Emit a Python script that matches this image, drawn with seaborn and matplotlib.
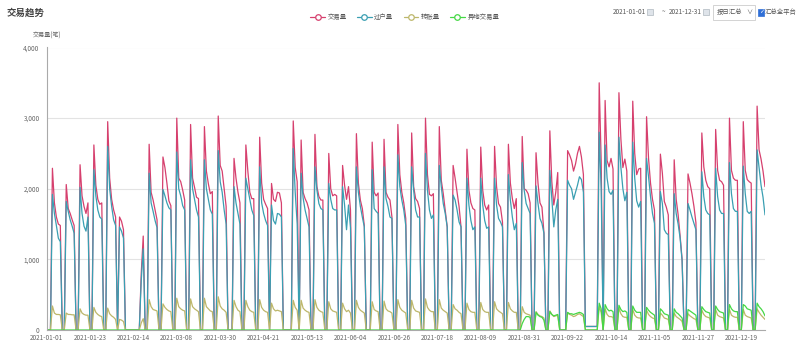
import pandas as pd
import matplotlib.pyplot as plt
import seaborn as sns
from matplotlib.lines import Line2D
from matplotlib.patches import Rectangle

sns.set_style('white')
plt.rcParams['font.family'] = ['Noto Sans CJK SC', 'DejaVu Sans']

# 每日数据, 2021-01-01 (周五) 起, 每行一周 (周一..周日)
dates = pd.date_range('2021-01-01', '2021-12-31', freq='D')

jiaoyi = [
    0, 0, 0,
    2290, 1800, 1600, 1500, 1480, 0, 0,  # 01-04
    2060, 1720, 1650, 1560, 1480, 0, 0,
    2340, 1900, 1750, 1650, 1800, 0, 0,
    2620, 2050, 1850, 1780, 1800, 0, 0,
    2950, 2150, 1850, 1700, 1600, 0, 1600,  # 02-01
    1540, 1420, 0, 0, 0, 0, 0,
    0, 0, 0, 800, 1330, 0, 0,
    2630, 1950, 1840, 1700, 1560, 0, 0,
    2450, 2300, 2080, 1830, 1760, 0, 0,  # 03-01
    3000, 2150, 2100, 1980, 1840, 0, 0,
    2910, 2150, 2020, 1880, 1860, 0, 0,
    2880, 2250, 2070, 1930, 1960, 0, 0,
    3030, 2330, 2250, 2000, 1750, 0, 0,
    0, 2430, 2150, 1950, 1800, 0, 0,  # 04-05
    2620, 2250, 1950, 1860, 1860, 0, 0,
    2730, 2080, 1850, 1780, 1720, 0, 2075,
    1850, 1820, 1950, 1940, 1800, 0, 0,
    0, 0, 0, 2960, 2300, 2100, 0,  # 05-03
    2690, 1950, 1860, 1800, 1700, 0, 0,
    2770, 2030, 1890, 1840, 1840, 0, 0,
    2500, 2000, 1900, 1920, 1900, 0, 0,
    2330, 2050, 1850, 2030, 1700, 0, 0,  # 05-31
    2780, 2080, 1840, 1720, 1480, 0, 0,
    0, 2660, 1950, 1900, 1940, 0, 0,
    2700, 1950, 1880, 1840, 1600, 0, 0,
    2910, 2200, 1950, 1800, 1580, 0, 0,  # 06-28
    2790, 2030, 1860, 1820, 1720, 0, 0,
    3000, 2200, 1920, 1900, 1930, 0, 0,
    2880, 2120, 1930, 1700, 1460, 0, 0,
    2330, 2150, 1950, 1750, 1460, 0, 0,
    2560, 1980, 1800, 1720, 1700, 0, 0,  # 08-02
    2590, 1980, 1770, 1700, 1770, 0, 0,
    2600, 2030, 1790, 1740, 1530, 0, 0,
    2630, 2080, 1860, 1720, 1860, 0, 0,
    2740, 2000, 1980, 1930, 1800, 0, 0,  # 08-30
    2510, 2080, 1800, 1740, 1380, 0, 0,
    2820, 2100, 1770, 1950, 2230, 0, 0,
    0, 0, 2540, 2480, 2400, 2250, 2350,
    2500, 2600, 2450, 2200, 50, 50, 50,  # 09-27
    50, 50, 50, 50, 3500, 2400, 0,
    3250, 2400, 2310, 2430, 2280, 0, 0,
    3360, 2700, 2300, 2420, 2250, 0, 0,
    3240, 2500, 2200, 2280, 2290, 0, 0,
    3020, 2430, 2080, 1850, 1700, 0, 0,  # 11-01
    2490, 2220, 1820, 1740, 1630, 0, 0,
    2410, 1850, 1630, 1330, 1000, 0, 0,
    2210, 2080, 1930, 1750, 1520, 0, 0,
    2790, 2310, 2120, 2030, 2000, 0, 0,  # 11-29
    2840, 2260, 2120, 2100, 2050, 0, 0,
    3000, 2260, 2150, 2120, 2120, 0, 0,
    2950, 2260, 2130, 2100, 2080, 0, 0,
    3170, 2550, 2420, 2250, 2030,  # 12-27
]

guohu = [
    0, 0, 0,
    1920, 1650, 1480, 1300, 1250, 0, 0,  # 01-04
    1820, 1680, 1560, 1470, 1370, 0, 0,
    2020, 1650, 1470, 1400, 1600, 0, 0,
    2270, 1900, 1700, 1600, 1570, 0, 0,
    2600, 2000, 1750, 1560, 1480, 0, 1460,  # 02-01
    1400, 1300, 0, 0, 0, 0, 0,
    0, 0, 0, 700, 1150, 0, 0,
    2220, 1800, 1680, 1550, 1450, 0, 0,
    1990, 1900, 1800, 1730, 1700, 0, 0,  # 03-01
    2520, 2000, 1900, 1760, 1700, 0, 0,
    2410, 2000, 1850, 1700, 1600, 0, 0,
    2410, 2000, 1850, 1700, 1640, 0, 0,
    2540, 2100, 1950, 1700, 1500, 0, 0,
    0, 2030, 1800, 1650, 1500, 0, 0,  # 04-05
    2150, 2000, 1850, 1700, 1620, 0, 0,
    2310, 1800, 1650, 1550, 1480, 0, 1770,
    1550, 1500, 1650, 1640, 1600, 0, 0,
    0, 0, 0, 2570, 1950, 1500, 0,  # 05-03
    2220, 1870, 1700, 1580, 1460, 0, 0,
    2310, 1980, 1790, 1720, 1700, 0, 0,
    2075, 1850, 1720, 1700, 1700, 0, 0,
    2030, 1770, 1420, 1770, 1450, 0, 0,  # 05-31
    2310, 1950, 1750, 1600, 1460, 0, 0,
    0, 2270, 1720, 1680, 1650, 0, 0,
    2310, 1860, 1750, 1600, 1580, 0, 0,
    2480, 2030, 1840, 1700, 1480, 0, 0,  # 06-28
    2310, 1980, 1700, 1600, 1600, 0, 0,
    2500, 1980, 1700, 1580, 1630, 0, 0,
    2330, 2030, 1790, 1650, 1460, 0, 0,
    1910, 1840, 1700, 1530, 1460, 0, 0,
    2150, 1770, 1550, 1420, 1460, 0, 0,  # 08-02
    2150, 1770, 1550, 1440, 1460, 0, 0,
    2150, 1770, 1580, 1530, 1460, 0, 0,
    2200, 1840, 1600, 1420, 1510, 0, 0,
    2370, 1980, 1790, 1720, 1650, 0, 0,  # 08-30
    2040, 1790, 1580, 1510, 1370, 0, 0,
    2260, 1850, 1460, 1700, 1850, 0, 0,
    0, 0, 2120, 2050, 2000, 1850, 1950,
    2050, 2170, 2130, 1950, 50, 50, 50,  # 09-27
    50, 50, 50, 50, 2800, 2000, 0,
    2620, 2150, 1960, 1920, 1980, 0, 0,
    2730, 2300, 2000, 1830, 1950, 0, 0,
    2660, 2150, 1830, 1740, 1820, 0, 0,
    2430, 2170, 1890, 1650, 1510, 0, 0,  # 11-01
    1960, 1790, 1420, 1370, 1350, 0, 0,
    1930, 1650, 1500, 1300, 980, 0, 0,
    1790, 1700, 1600, 1510, 1420, 0, 0,
    2240, 1890, 1700, 1650, 1630, 0, 0,  # 11-29
    2290, 1890, 1700, 1650, 1650, 0, 0,
    2370, 1930, 1720, 1680, 1680, 0, 0,
    2320, 1930, 1680, 1650, 1680, 0, 0,
    2550, 2300, 2050, 1880, 1630,  # 12-27
]

zhuanzhang = [
    0, 0, 0,
    340, 240, 220, 220, 215, 0, 0,  # 01-04
    240, 220, 220, 215, 215, 0, 0,
    300, 240, 220, 210, 210, 0, 0,
    320, 250, 220, 200, 190, 0, 0,
    310, 230, 200, 180, 150, 0, 150,  # 02-01
    140, 120, 0, 0, 0, 0, 0,
    0, 0, 0, 100, 160, 0, 0,
    430, 330, 290, 280, 270, 0, 0,
    370, 320, 290, 270, 260, 0, 0,  # 03-01
    450, 330, 300, 280, 270, 0, 0,
    440, 330, 300, 280, 260, 0, 0,
    450, 330, 300, 270, 260, 0, 0,
    470, 340, 300, 280, 250, 0, 0,
    0, 420, 330, 280, 260, 0, 0,  # 04-05
    420, 330, 280, 260, 250, 0, 0,
    430, 320, 280, 260, 250, 0, 380,
    300, 270, 280, 270, 260, 0, 0,
    0, 0, 0, 420, 320, 280, 0,  # 05-03
    420, 310, 280, 260, 250, 0, 0,
    430, 320, 280, 260, 250, 0, 0,
    400, 300, 270, 260, 250, 0, 0,
    380, 300, 260, 280, 240, 0, 0,  # 05-31
    420, 320, 280, 260, 240, 0, 0,
    0, 400, 290, 270, 260, 0, 0,
    410, 300, 270, 260, 240, 0, 0,
    430, 320, 280, 260, 240, 0, 0,  # 06-28
    420, 310, 270, 260, 250, 0, 0,
    440, 320, 280, 260, 260, 0, 0,
    430, 310, 280, 260, 240, 0, 0,
    360, 300, 280, 250, 230, 0, 0,
    380, 290, 260, 250, 250, 0, 0,  # 08-02
    390, 290, 260, 250, 250, 0, 0,
    400, 300, 270, 250, 230, 0, 0,
    390, 300, 270, 250, 250, 0, 0,
    330, 250, 230, 220, 210, 0, 0,  # 08-30
    260, 220, 200, 190, 170, 0, 0,
    270, 220, 190, 200, 210, 0, 0,
    0, 0, 240, 220, 210, 190, 200,
    220, 230, 210, 190, 0, 0, 0,  # 09-27
    0, 0, 0, 0, 330, 250, 0,
    300, 220, 190, 190, 180, 0, 0,
    310, 230, 190, 180, 180, 0, 0,
    290, 210, 180, 170, 170, 0, 0,
    280, 220, 190, 170, 160, 0, 0,  # 11-01
    240, 210, 170, 160, 150, 0, 0,
    240, 190, 170, 150, 120, 0, 0,
    230, 200, 180, 160, 150, 0, 0,
    280, 220, 190, 180, 170, 0, 0,  # 11-29
    290, 210, 190, 180, 170, 0, 0,
    290, 210, 190, 180, 180, 0, 0,
    290, 210, 190, 180, 170, 0, 0,
    300, 250, 210, 180, 150,  # 12-27
]

yidi = [
    0, 0, 0,
    0, 0, 0, 0, 0, 0, 0,  # 01-04
    0, 0, 0, 0, 0, 0, 0,
    0, 0, 0, 0, 0, 0, 0,
    0, 0, 0, 0, 0, 0, 0,
    0, 0, 0, 0, 0, 0, 0,  # 02-01
    0, 0, 0, 0, 0, 0, 0,
    0, 0, 0, 0, 0, 0, 0,
    0, 0, 0, 0, 0, 0, 0,
    0, 0, 0, 0, 0, 0, 0,  # 03-01
    0, 0, 0, 0, 0, 0, 0,
    0, 0, 0, 0, 0, 0, 0,
    0, 0, 0, 0, 0, 0, 0,
    0, 0, 0, 0, 0, 0, 0,
    0, 0, 0, 0, 0, 0, 0,  # 04-05
    0, 0, 0, 0, 0, 0, 0,
    0, 0, 0, 0, 0, 0, 0,
    0, 0, 0, 0, 0, 0, 0,
    0, 0, 0, 0, 0, 0, 0,  # 05-03
    0, 0, 0, 0, 0, 0, 0,
    0, 0, 0, 0, 0, 0, 0,
    0, 0, 0, 0, 0, 0, 0,
    0, 0, 0, 0, 0, 0, 0,  # 05-31
    0, 0, 0, 0, 0, 0, 0,
    0, 0, 0, 0, 0, 0, 0,
    0, 0, 0, 0, 0, 0, 0,
    0, 0, 0, 0, 0, 0, 0,  # 06-28
    0, 0, 0, 0, 0, 0, 0,
    0, 0, 0, 0, 0, 0, 0,
    0, 0, 0, 0, 0, 0, 0,
    0, 0, 0, 0, 0, 0, 0,
    0, 0, 0, 0, 0, 0, 0,  # 08-02
    0, 0, 0, 0, 0, 0, 0,
    0, 0, 0, 0, 0, 0, 0,
    0, 0, 0, 0, 0, 0, 0,
    90, 150, 190, 190, 180, 0, 0,  # 08-30
    250, 210, 190, 180, 140, 0, 0,
    260, 220, 200, 210, 220, 0, 0,
    0, 0, 250, 230, 230, 220, 230,
    240, 250, 240, 220, 0, 0, 0,  # 09-27
    0, 0, 0, 0, 380, 300, 0,
    360, 300, 270, 280, 260, 0, 0,
    350, 290, 260, 270, 250, 0, 0,
    340, 280, 250, 250, 250, 0, 0,
    320, 280, 250, 230, 210, 0, 0,  # 11-01
    300, 270, 230, 220, 210, 0, 0,
    300, 250, 230, 200, 170, 0, 0,
    290, 270, 250, 230, 210, 0, 0,
    330, 290, 260, 250, 240, 0, 0,  # 11-29
    340, 290, 260, 250, 240, 0, 0,
    360, 300, 270, 260, 260, 0, 0,
    360, 340, 300, 290, 280, 0, 0,
    380, 330, 300, 260, 200,  # 12-27
]

series = ['交易量', '过户量', '转账量', '异地交易量']
colors = ['#d6406e', '#3a9fb2', '#bdb76b', '#45d845']

df = pd.DataFrame({'日期': dates, '交易量': jiaoyi, '过户量': guohu,
                   '转账量': zhuanzhang, '异地交易量': yidi})
df = df.melt(id_vars='日期', var_name='类型', value_name='数量')

fig = plt.figure(figsize=(8, 3.58), dpi=100)
ax = fig.add_axes([46.5 / 800, 1 - 330 / 358, (765 - 46.5) / 800, (330 - 47.5) / 358])

sns.lineplot(data=df, x='日期', y='数量', hue='类型', hue_order=series,
             palette=colors, lw=0.9, errorbar=None, legend=False, ax=ax)

ax.set_xlim(dates[0], dates[-1])
ax.set_ylim(0, 4000)
ax.set_yticks([0, 1000, 2000, 3000, 4000])
ax.set_yticklabels(['0', '1,000', '2,000', '3,000', '4,000'])
ax.set_xticks(dates[::22])
ax.set_xticklabels([d.strftime('%Y-%m-%d') for d in dates[::22]])
ax.set_xticks(dates[11::22], minor=True)
ax.tick_params(axis='x', which='major', length=0, labelsize=4.6, labelcolor='#666', pad=3)
ax.tick_params(axis='x', which='minor', length=3, color='#aaa', width=0.7)
ax.tick_params(axis='y', length=3, color='#aaa', width=0.7, labelsize=4.6,
               labelcolor='#666', pad=2)
ax.set_xlabel('')
ax.set_ylabel('')
ax.grid(axis='y', color='#e3e3e3', lw=0.8)
ax.set_axisbelow(True)
for s in ['top', 'right']:
    ax.spines[s].set_visible(False)
for s in ['left', 'bottom']:
    ax.spines[s].set_color('#aaa')
    ax.spines[s].set_linewidth(0.8)

# 标题和坐标轴名称
fig.text(7 / 800, 1 - 13 / 358, '交易趋势', fontsize=6.8, color='#444',
         fontweight='bold', va='center')
fig.text(33 / 800, 1 - 36 / 358, '交易量(笔)', fontsize=4.4, color='#666', va='center')

# 图例
handles = [Line2D([0], [0], color=c, lw=0.9, marker='o', markersize=4,
                  markerfacecolor='white', markeredgewidth=0.9) for c in colors]
fig.legend(handles, series, loc='center', bbox_to_anchor=(0.506, 1 - 17 / 358),
           ncol=4, frameon=False, fontsize=4.6, labelcolor='#555',
           handlelength=2.3, handletextpad=0.4, columnspacing=1.6)

# 右上角控件
ctl = dict(fontsize=4.6, color='#555', va='center')
fig.text(613 / 800, 1 - 12 / 358, '2021-01-01', **ctl)
fig.add_artist(Rectangle((647 / 800, 1 - 15 / 358), 6 / 800, 6 / 358,
                         transform=fig.transFigure, fc='#dfe4ea', ec='#b0b8c0', lw=0.5))
fig.text(662 / 800, 1 - 12 / 358, '~', **ctl)
fig.text(669 / 800, 1 - 12 / 358, '2021-12-31', **ctl)
fig.add_artist(Rectangle((703 / 800, 1 - 15 / 358), 6 / 800, 6 / 358,
                         transform=fig.transFigure, fc='#dfe4ea', ec='#b0b8c0', lw=0.5))
fig.add_artist(Rectangle((713 / 800, 1 - 20 / 358), 42 / 800, 15 / 358,
                         transform=fig.transFigure, fc='white', ec='#ccc', lw=0.6))
fig.text(717 / 800, 1 - 12 / 358, '按日汇总', **ctl)
fig.text(746 / 800, 1 - 12 / 358, '∨', fontsize=4.4, color='#555', va='center')
fig.add_artist(Rectangle((758 / 800, 1 - 15.5 / 358), 6 / 800, 7 / 358,
                         transform=fig.transFigure, fc='#2f6fd6', ec='#2f6fd6', lw=0.5))
fig.text(758.8 / 800, 1 - 12 / 358, '✓', fontsize=4.4, color='white', va='center',
         family=['DejaVu Sans'])
fig.text(765 / 800, 1 - 12 / 358, '汇总全平台', **ctl)

fig.savefig('out.png', dpi=100)
